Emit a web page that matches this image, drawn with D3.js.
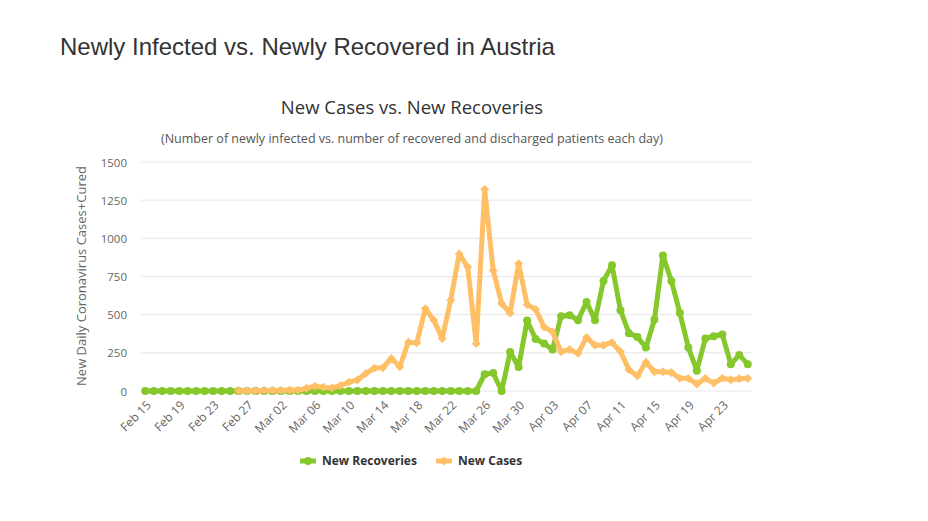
<!DOCTYPE html>
<html>
<head>
<meta charset="utf-8">
<script src="https://cdn.jsdelivr.net/npm/d3@7"></script>
<style>
  body { margin: 0; background: #fff; }
  svg { display: block; }
</style>
</head>
<body>
<svg id="chart" width="928" height="521"></svg>
<script>
// ---- Data ----
const dates = ["Feb 15","Feb 16","Feb 17","Feb 18","Feb 19","Feb 20","Feb 21","Feb 22","Feb 23","Feb 24","Feb 25","Feb 26","Feb 27","Feb 28","Feb 29",
  "Mar 01","Mar 02","Mar 03","Mar 04","Mar 05","Mar 06","Mar 07","Mar 08","Mar 09","Mar 10","Mar 11","Mar 12","Mar 13","Mar 14","Mar 15","Mar 16","Mar 17","Mar 18","Mar 19","Mar 20","Mar 21","Mar 22","Mar 23","Mar 24","Mar 25","Mar 26","Mar 27","Mar 28","Mar 29","Mar 30","Mar 31",
  "Apr 01","Apr 02","Apr 03","Apr 04","Apr 05","Apr 06","Apr 07","Apr 08","Apr 09","Apr 10","Apr 11","Apr 12","Apr 13","Apr 14","Apr 15","Apr 16","Apr 17","Apr 18","Apr 19","Apr 20","Apr 21","Apr 22","Apr 23","Apr 24","Apr 25","Apr 26"];

const newRecoveries = [0,0,0,0,0,0,0,0,0,0,0,0,0,0,0,
  0,0,0,0,0,0,0,0,0,0,0,0,0,0,0,0,0,0,0,0,0,0,0,0,0,110,118,0,255,157,462,341,
  311,272,490,496,464,583,464,721,823,529,379,353,285,468,888,721,511,285,133,344,359,370,176,235,176];

const newCases = [null,null,null,null,null,null,null,null,null,null,null,2,1,2,4,
  4,4,6,5,18,32,25,20,36,58,72,115,150,152,213,159,320,315,540,464,344,595,898,812,310,1321,790,573,511,834,566,535,
  420,387,257,272,246,351,300,300,318,258,140,98,188,126,126,121,83,83,46,83,52,84,74,80,83];

const yTicks = [0,250,500,750,1000,1250,1500];
const xTickLabels = dates.filter((d,i) => i % 4 === 0);

// ---- Layout ----
const svg = d3.select("#chart");
const green = "#86c72c";
const orange = "#ffbf66";
const font = "'Open Sans', 'DejaVu Sans', sans-serif";

svg.append("text")
  .attr("x", 60).attr("y", 55)
  .attr("font-family", "'Liberation Sans', Arial, sans-serif")
  .attr("font-size", 24).attr("fill", "#333")
  .text("Newly Infected vs. Newly Recovered in Austria");

svg.append("text")
  .attr("x", 412).attr("y", 114)
  .attr("text-anchor", "middle")
  .attr("font-family", font).attr("font-size", 18.5).attr("fill", "#333")
  .text("New Cases vs. New Recoveries");

svg.append("text")
  .attr("x", 412).attr("y", 143)
  .attr("text-anchor", "middle")
  .attr("font-family", font).attr("font-size", 12.5).attr("fill", "#555")
  .text("(Number of newly infected vs. number of recovered and discharged patients each day)");

const x = d3.scalePoint().domain(dates).range([141, 752]).padding(0.5);
const y = d3.scaleLinear().domain([0, 1500]).range([391, 162]);

// gridlines
svg.append("g").selectAll("line").data(yTicks).join("line")
  .attr("x1", 141).attr("x2", 752)
  .attr("y1", d => y(d)).attr("y2", d => y(d))
  .attr("stroke", "#e6e6e6").attr("stroke-width", 1);

// Y axis labels
const yAxis = d3.axisLeft(y).tickValues(yTicks).tickFormat(d3.format("d")).tickSize(0).tickPadding(0);
const gy = svg.append("g").attr("transform", "translate(127,0)").call(yAxis);
gy.select(".domain").remove();
gy.selectAll("text").attr("font-family", font).attr("font-size", 11.5).attr("fill", "#666").attr("dy", "0.35em");

// Y axis title
svg.append("text")
  .attr("transform", "translate(86,276) rotate(-90)")
  .attr("text-anchor", "middle")
  .attr("font-family", font).attr("font-size", 13).attr("fill", "#666")
  .text("New Daily Coronavirus Cases+Cured");

// X axis labels
const xAxis = d3.axisBottom(x).tickValues(xTickLabels).tickSize(0).tickPadding(0);
const gx = svg.append("g").attr("transform", "translate(0,391)").call(xAxis);
gx.select(".domain").remove();
gx.selectAll("text")
  .attr("font-family", font).attr("font-size", 12).attr("fill", "#666")
  .attr("text-anchor", "end")
  .attr("dy", null).attr("y", null)
  .attr("transform", "translate(6,15) rotate(-45)");

// Lines
const line = d3.line()
  .defined(d => d.v !== null)
  .x(d => x(d.date)).y(d => y(d.v));

const recData = dates.map((d, i) => ({date: d, v: newRecoveries[i]}));
const caseData = dates.map((d, i) => ({date: d, v: newCases[i]}));

svg.append("path").datum(recData)
  .attr("d", line).attr("fill", "none")
  .attr("stroke", green).attr("stroke-width", 5)
  .attr("stroke-linejoin", "round").attr("stroke-linecap", "round");
svg.append("g").selectAll("circle").data(recData).join("circle")
  .attr("cx", d => x(d.date)).attr("cy", d => y(d.v)).attr("r", 4)
  .attr("fill", green);

svg.append("path").datum(caseData)
  .attr("d", line).attr("fill", "none")
  .attr("stroke", orange).attr("stroke-width", 5)
  .attr("stroke-linejoin", "round").attr("stroke-linecap", "round");
const diamond = d3.symbol().type(d3.symbolDiamond2).size(50);
svg.append("g").selectAll("path").data(caseData.filter(d => d.v !== null)).join("path")
  .attr("transform", d => `translate(${x(d.date)},${y(d.v)})`)
  .attr("d", diamond).attr("fill", orange);

// Legend
const legend = [{name: "New Recoveries", color: green, sym: "circle", x: 300},
                {name: "New Cases", color: orange, sym: "diamond", x: 436}];
const lg = svg.append("g");
legend.forEach(l => {
  lg.append("line").attr("x1", l.x).attr("x2", l.x + 16).attr("y1", 461).attr("y2", 461)
    .attr("stroke", l.color).attr("stroke-width", 5);
  if (l.sym === "circle") {
    lg.append("circle").attr("cx", l.x + 8).attr("cy", 461).attr("r", 4).attr("fill", l.color);
  } else {
    lg.append("path").attr("transform", `translate(${l.x + 8},461)`).attr("d", diamond).attr("fill", l.color);
  }
  lg.append("text").attr("x", l.x + 22).attr("y", 465)
    .attr("font-family", font).attr("font-size", 12).attr("font-weight", "bold").attr("fill", "#333")
    .text(l.name);
});
</script>
</body>
</html>
